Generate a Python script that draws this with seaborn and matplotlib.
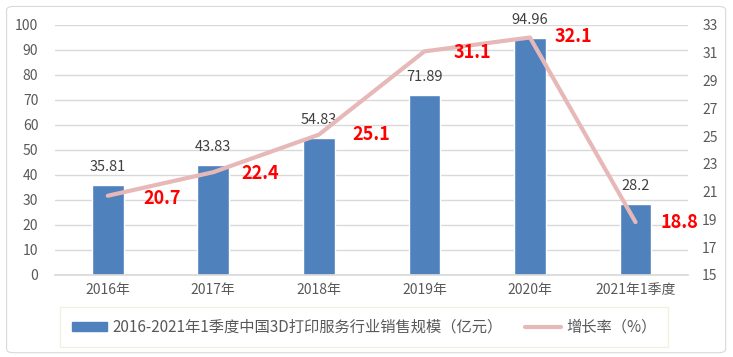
import numpy as np
import pandas as pd
import matplotlib
matplotlib.use("Agg")
import matplotlib.pyplot as plt
import seaborn as sns
from matplotlib.patches import Patch, FancyBboxPatch
from matplotlib.lines import Line2D

years = ["2016年", "2017年", "2018年", "2019年", "2020年", "2021年1季度"]
sales = [35.81, 43.83, 54.83, 71.89, 94.96, 28.2]
growth = [20.7, 22.4, 25.1, 31.1, 32.1, 18.8]
bar_name = "2016-2021年1季度中国3D打印服务行业销售规模（亿元）"
line_name = "增长率（%）"

sns.set_theme(style="white")
plt.rcParams["font.family"] = ["Noto Sans CJK SC", "DejaVu Sans"]

df = pd.DataFrame({"year": years, "sales": sales, "growth": growth,
                   "pos": np.arange(len(years))})

fig = plt.figure(figsize=(7.33, 3.57), dpi=100)
fig.patches.append(FancyBboxPatch((0.009, 0.012), 0.981, 0.97,
                                  boxstyle="round,pad=0,rounding_size=0.01",
                                  transform=fig.transFigure, fill=False,
                                  edgecolor="#d9d9d9", linewidth=0.8))
ax = fig.add_axes([0.075, 0.23, 0.864, 0.70])

bar_color = "#4f81bd"
line_color = "#e6b9b8"
tick_color = "#595959"

sns.barplot(data=df, x="year", y="sales", color=bar_color, width=0.3,
            saturation=1, ax=ax)
ax.set_ylim(0, 100)
ax.set_yticks(np.arange(0, 101, 10))
ax.set_xlim(-0.5, len(years) - 0.5)
ax.set_xlabel("")
ax.set_ylabel("")
ax.grid(axis="y", color="#d9d9d9", linewidth=1)
ax.set_axisbelow(True)
for s in ["top", "left", "right"]:
    ax.spines[s].set_visible(False)
ax.spines["bottom"].set_color("#d9d9d9")
ax.tick_params(axis="both", length=0, colors=tick_color, labelsize=10)
ax.tick_params(axis="y", pad=12)
ax.tick_params(axis="x", pad=6)

for i, v in enumerate(sales):
    ax.annotate(f"{v:g}", (i, v), xytext=(0, 13), textcoords="offset points",
                ha="center", va="center", fontsize=10.5, color="#404040")

ax2 = ax.twinx()
sns.lineplot(data=df, x="pos", y="growth", color=line_color, linewidth=3,
             ax=ax2)
ax2.set_ylim(15, 33)
ax2.set_yticks(np.arange(15, 34, 2))
ax2.set_xlim(-0.5, len(years) - 0.5)
ax2.set_ylabel("")
ax2.set_xlabel("")
for s in ["top", "left", "right", "bottom"]:
    ax2.spines[s].set_visible(False)
ax2.tick_params(axis="y", length=0, colors=tick_color, labelsize=10, pad=10)

label_offsets = [(26, -2), (20, -1), (24, 0), (21, -1), (18, 1), (18, 0)]
for i, v in enumerate(growth):
    dx, dy = label_offsets[i]
    ax2.annotate(f"{v:g}", (i, v), xytext=(dx, dy), textcoords="offset points",
                 ha="left", va="center", fontsize=13, fontweight="bold",
                 color="#ff0000")

handles = [Patch(facecolor=bar_color, edgecolor=bar_color),
           Line2D([0], [0], color=line_color, linewidth=3)]
leg = fig.legend(handles, [bar_name, line_name], loc="center",
                 bbox_to_anchor=(0.4966, 0.083), ncol=2, frameon=True,
                 fontsize=11, handlelength=2.3, handleheight=0.6,
                 handletextpad=0.35, columnspacing=1.5, fancybox=False,
                 borderpad=0.75, borderaxespad=0)
leg.get_frame().set_edgecolor("#eeeed8")
leg.get_frame().set_linewidth(1)
for t in leg.get_texts():
    t.set_color(tick_color)

fig.savefig("out.png", dpi=100)
